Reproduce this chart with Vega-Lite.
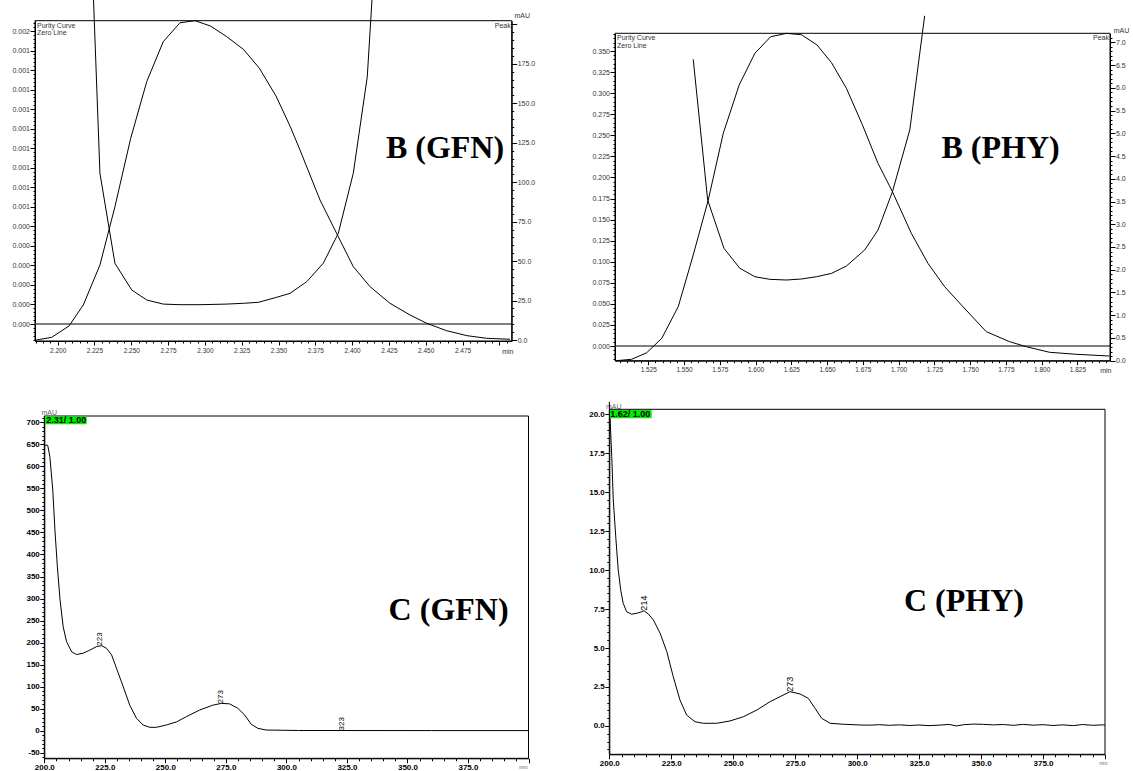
{
"$schema": "https://vega.github.io/schema/vega-lite/v6.json",
"width": 1133, "height": 771, "padding": 0, "autosize": {"type": "none"},
"background": "white",
"usermeta": {"embedOptions": {"actions": false}},
"config": {
  "view": {"stroke": null},
  "axis": {"grid": false, "domainColor": "black", "tickColor": "black", "domainWidth": 1, "tickWidth": 1, "labelOverlap": false, "labelFlush": false, "labelBound": false, "labelFont": "Liberation Sans", "titleFont": "Liberation Sans"},
  "text": {"font": "Liberation Sans"}
},
"datasets": {
  "b_gfn_peak": [
    {"t":2.1853,"mau":0.0},{"t":2.1959,"mau":1.7},{"t":2.2077,"mau":8.9},{"t":2.2174,"mau":22.2},{"t":2.2287,"mau":47.5},{"t":2.2389,"mau":84.5},{"t":2.2496,"mau":127.8},{"t":2.2605,"mau":163.7},{"t":2.2717,"mau":189.0},{"t":2.2831,"mau":201.0},{"t":2.2933,"mau":202.3},{"t":2.3039,"mau":198.9},{"t":2.3148,"mau":192.2},{"t":2.3261,"mau":184.2},{"t":2.3370,"mau":172.2},{"t":2.3483,"mau":154.6},{"t":2.3580,"mau":135.2},{"t":2.3646,"mau":120.4},{"t":2.3782,"mau":88.7},{"t":2.3906,"mau":65.5},{"t":2.4008,"mau":46.5},{"t":2.4122,"mau":33.8},{"t":2.4257,"mau":23.3},{"t":2.4393,"mau":15.9},{"t":2.4507,"mau":10.6},{"t":2.4643,"mau":5.9},{"t":2.4779,"mau":2.8},{"t":2.4914,"mau":1.1},{"t":2.5073,"mau":0.5}
  ],
  "b_gfn_purity": [
    {"t":2.2240,"purity":0.001731},{"t":2.2287,"purity":0.000772},{"t":2.2389,"purity":0.000311},{"t":2.2503,"purity":0.000174},{"t":2.2605,"purity":0.000123},{"t":2.2717,"purity":0.000102},{"t":2.2831,"purity":0.0000989},{"t":2.2967,"purity":0.0000989},{"t":2.3148,"purity":0.000102},{"t":2.3261,"purity":0.000106},{"t":2.3363,"purity":0.000111},{"t":2.3488,"purity":0.000137},{"t":2.3578,"purity":0.000157},{"t":2.3692,"purity":0.000217},{"t":2.3804,"purity":0.000311},{"t":2.3906,"purity":0.000464},{"t":2.4008,"purity":0.000772},{"t":2.4103,"purity":0.001266},{"t":2.4149,"purity":0.001832}
  ],
  "b_phy_peak": [
    {"t":1.5024,"mau":0.0},{"t":1.5134,"mau":0.031},{"t":1.5239,"mau":0.176},{"t":1.5344,"mau":0.492},{"t":1.5459,"mau":1.187},{"t":1.5564,"mau":2.324},{"t":1.5669,"mau":3.533},{"t":1.5774,"mau":4.999},{"t":1.5885,"mau":6.061},{"t":1.5995,"mau":6.758},{"t":1.6105,"mau":7.122},{"t":1.6216,"mau":7.197},{"t":1.6321,"mau":7.166},{"t":1.6430,"mau":6.940},{"t":1.6531,"mau":6.551},{"t":1.6635,"mau":5.988},{"t":1.6746,"mau":5.192},{"t":1.6856,"mau":4.339},{"t":1.6957,"mau":3.715},{"t":1.7089,"mau":2.801},{"t":1.7205,"mau":2.141},{"t":1.7322,"mau":1.627},{"t":1.7439,"mau":1.224},{"t":1.7613,"mau":0.638},{"t":1.7776,"mau":0.418},{"t":1.7893,"mau":0.308},{"t":1.8055,"mau":0.185},{"t":1.8242,"mau":0.141},{"t":1.8474,"mau":0.103}
  ],
  "b_phy_purity": [
    {"t":1.5564,"purity":0.3401},{"t":1.5665,"purity":0.1732},{"t":1.5779,"purity":0.1159},{"t":1.5890,"purity":0.0922},{"t":1.5995,"purity":0.0822},{"t":1.6100,"purity":0.0791},{"t":1.6216,"purity":0.0783},{"t":1.6321,"purity":0.0795},{"t":1.6426,"purity":0.0822},{"t":1.6531,"purity":0.0862},{"t":1.6635,"purity":0.0949},{"t":1.6763,"purity":0.1139},{"t":1.6856,"purity":0.1376},{"t":1.6957,"purity":0.1831},{"t":1.7078,"purity":0.2563},{"t":1.7182,"purity":0.3917}
  ],
  "c_gfn": [
    {"nm":200,"mau":648},{"nm":201.4,"mau":648},{"nm":202.3,"mau":622},{"nm":203.5,"mau":546},{"nm":204.4,"mau":455},{"nm":205.4,"mau":372},{"nm":206.5,"mau":297},{"nm":207.8,"mau":236},{"nm":209.2,"mau":202},{"nm":211.3,"mau":179},{"nm":213.3,"mau":173},{"nm":216.1,"mau":176},{"nm":218.8,"mau":183},{"nm":221.6,"mau":191},{"nm":223.7,"mau":193},{"nm":225.7,"mau":187},{"nm":227.8,"mau":172},{"nm":229.8,"mau":142},{"nm":232.6,"mau":100},{"nm":235.3,"mau":58},{"nm":238.1,"mau":28},{"nm":240.8,"mau":13},{"nm":243.6,"mau":7.7},{"nm":246.3,"mau":7.7},{"nm":250.4,"mau":13},{"nm":254.6,"mau":20},{"nm":258.7,"mau":32},{"nm":264.2,"mau":47},{"nm":269.6,"mau":58},{"nm":273.1,"mau":62},{"nm":276.5,"mau":61},{"nm":279.9,"mau":51},{"nm":282.7,"mau":36},{"nm":285.5,"mau":14.5},{"nm":288.2,"mau":5.4},{"nm":291.6,"mau":1.6},{"nm":298.5,"mau":1},{"nm":305,"mau":0.5},{"nm":330,"mau":0.4},{"nm":360,"mau":0.3},{"nm":400,"mau":0.3}
  ],
  "c_gfn_labels": [
    {"nm":223,"mau":193,"label":"223"},{"nm":273,"mau":62,"label":"273"},{"nm":323,"mau":0.5,"label":"323"}
  ],
  "c_phy": [
    {"nm":200,"mau":20.8},{"nm":201.0,"mau":17.28},{"nm":201.6,"mau":14.5},{"nm":202.7,"mau":11.93},{"nm":203.6,"mau":10.01},{"nm":204.6,"mau":8.73},{"nm":205.6,"mau":7.87},{"nm":207.0,"mau":7.33},{"nm":209.0,"mau":7.17},{"nm":211.1,"mau":7.23},{"nm":213.1,"mau":7.33},{"nm":214.0,"mau":7.40},{"nm":215.7,"mau":7.19},{"nm":217.8,"mau":6.80},{"nm":220.5,"mau":5.95},{"nm":223.2,"mau":4.77},{"nm":225.8,"mau":3.16},{"nm":228.5,"mau":1.67},{"nm":231.2,"mau":0.70},{"nm":234.6,"mau":0.27},{"nm":237.9,"mau":0.17},{"nm":243.3,"mau":0.17},{"nm":248.7,"mau":0.32},{"nm":254.1,"mau":0.59},{"nm":259.5,"mau":1.02},{"nm":264.9,"mau":1.56},{"nm":268.9,"mau":1.88},{"nm":272.9,"mau":2.20},{"nm":277.0,"mau":2.05},{"nm":280.3,"mau":1.77},{"nm":283.0,"mau":1.13},{"nm":285.7,"mau":0.49},{"nm":289.1,"mau":0.17},{"nm":294.4,"mau":0.11},{"nm":301.2,"mau":0.06},{"nm":305,"mau":0.05},{"nm":309,"mau":0.08},{"nm":313,"mau":0.04},{"nm":317,"mau":0.07},{"nm":321,"mau":0.03},{"nm":325,"mau":0.06},{"nm":329,"mau":0.02},{"nm":333,"mau":0.05},{"nm":337,"mau":0.1},{"nm":340,"mau":0.0},{"nm":343,"mau":0.08},{"nm":347,"mau":0.12},{"nm":351,"mau":0.1},{"nm":355,"mau":0.07},{"nm":359,"mau":0.09},{"nm":363,"mau":0.04},{"nm":367,"mau":0.1},{"nm":371,"mau":0.05},{"nm":375,"mau":0.08},{"nm":379,"mau":0.03},{"nm":383,"mau":0.07},{"nm":387,"mau":0.02},{"nm":391,"mau":0.09},{"nm":395,"mau":0.04},{"nm":399,"mau":0.07},{"nm":400,"mau":0.05}
  ],
  "c_phy_labels": [
    {"nm":214,"mau":7.4,"label":"214"},{"nm":273,"mau":2.2,"label":"273"}
  ]
},
"layer": [
  {
    "layer": [
      {
        "data": {"name": "b_gfn_purity"},
        "mark": {"type": "line", "color": "black", "strokeWidth": 1, "clip": true},
        "encoding": {
          "x": {"field": "t", "type": "quantitative",
            "scale": {"domain": [2.1846, 2.5084], "range": [35, 511.7], "nice": false, "zero": false},
            "axis": {"orient": "bottom", "offset": -430, "labelOverlap": false, "tickCount": 1000,
              "values": [2.185,2.19,2.195,2.2,2.205,2.21,2.215,2.22,2.225,2.23,2.235,2.24,2.245,2.25,2.255,2.26,2.265,2.27,2.275,2.28,2.285,2.29,2.295,2.3,2.305,2.31,2.315,2.32,2.325,2.33,2.335,2.34,2.345,2.35,2.355,2.36,2.365,2.37,2.375,2.38,2.385,2.39,2.395,2.4,2.405,2.41,2.415,2.42,2.425,2.43,2.435,2.44,2.445,2.45,2.455,2.46,2.465,2.47,2.475,2.48,2.485,2.49,2.495,2.5,2.505],
              "labelExpr": "abs(datum.value*40-round(datum.value*40))<0.001 && datum.value<2.49 ? format(datum.value,'.3f') : ''",
              "tickSize": 4,
              "tickDash": {"condition": {"test": "abs(datum.value*40-round(datum.value*40))<0.001", "value": []}, "value": [2, 20]},
              "labelFontSize": 6.5, "labelColor": "#333", "labelPadding": 2,
              "title": "min", "titleX": 513, "titleY": 6, "titleAlign": "right", "titleBaseline": "top", "titleFontSize": 7, "titleFontWeight": "normal", "titleColor": "#333"}},
          "y": {"field": "purity", "type": "quantitative",
            "scale": {"domain": [-0.000087, 0.001553], "range": [341, 20.7], "nice": false, "zero": false},
            "axis": {"orient": "left", "offset": -35, "labelOverlap": false, "tickCount": 1000,
              "values": [-0.00008,-0.00006,-0.00004,-0.00002,0,0.00002,0.00004,0.00006,0.00008,0.0001,0.00012,0.00014,0.00016,0.00018,0.0002,0.00022,0.00024,0.00026,0.00028,0.0003,0.00032,0.00034,0.00036,0.00038,0.0004,0.00042,0.00044,0.00046,0.00048,0.0005,0.00052,0.00054,0.00056,0.00058,0.0006,0.00062,0.00064,0.00066,0.00068,0.0007,0.00072,0.00074,0.00076,0.00078,0.0008,0.00082,0.00084,0.00086,0.00088,0.0009,0.00092,0.00094,0.00096,0.00098,0.001,0.00102,0.00104,0.00106,0.00108,0.0011,0.00112,0.00114,0.00116,0.00118,0.0012,0.00122,0.00124,0.00126,0.00128,0.0013,0.00132,0.00134,0.00136,0.00138,0.0014,0.00142,0.00144,0.00146,0.00148,0.0015,0.00152,0.00154],
              "labelExpr": "abs(datum.value*10000-round(datum.value*10000))<0.01 && datum.value>-0.00001 ? (datum.value<0.00055 ? '0.000' : (datum.value<0.00145 ? '0.001' : '0.002')) : ''",
              "tickSize": 5,
              "tickDash": {"condition": {"test": "abs(datum.value*10000-round(datum.value*10000))<0.01", "value": []}, "value": [2, 20]},
              "labelFontSize": 7, "labelColor": "#333", "labelPadding": 0.5, "title": null}}
        }
      },
      {
        "data": {"values": [{}]},
        "mark": {"type": "rule", "color": "#555", "strokeWidth": 1.5},
        "encoding": {"x": {"datum": 2.1846}, "x2": {"datum": 2.5084}, "y": {"datum": 0}}
      },
      {
        "data": {"values": [{}]},
        "mark": {"type": "text", "align": "left", "baseline": "top", "dx": 2, "dy": 1, "fontSize": 7, "lineHeight": 7.5, "color": "#333", "text": ["Purity Curve", "Zero Line"]},
        "encoding": {"x": {"datum": 2.1846}, "y": {"datum": 0.001553}}
      }
    ]
  },
  {
    "layer": [
      {
        "data": {"name": "b_gfn_peak"},
        "mark": {"type": "line", "color": "black", "strokeWidth": 1, "clip": true},
        "encoding": {
          "x": {"field": "t", "type": "quantitative", "scale": {"domain": [2.1846, 2.5084], "range": [35, 511.7], "nice": false, "zero": false}, "axis": null},
          "y": {"field": "mau", "type": "quantitative",
            "scale": {"domain": [-0.6, 202.3], "range": [341, 20.7], "nice": false, "zero": false},
            "axis": {"orient": "right", "offset": -621.3, "labelOverlap": false, "tickCount": 1000,
              "values": [0,5,10,15,20,25,30,35,40,45,50,55,60,65,70,75,80,85,90,95,100,105,110,115,120,125,130,135,140,145,150,155,160,165,170,175,180,185,190,195,200],
              "labelExpr": "datum.value%25==0 && datum.value<190 ? format(datum.value,'.1f') : ''",
              "tickSize": 5,
              "tickDash": {"condition": {"test": "datum.value%25==0", "value": []}, "value": [2, 20]},
              "labelFontSize": 7, "labelColor": "#333", "labelPadding": 0.5,
              "title": "mAU", "titleAngle": 0, "titleX": 10, "titleY": 15, "titleAlign": "center", "titleBaseline": "middle", "titleFontSize": 7, "titleFontWeight": "normal", "titleColor": "#333"}}
        }
      },
      {
        "data": {"values": [{}]},
        "mark": {"type": "rect", "fillOpacity": 0, "stroke": "black", "strokeWidth": 1},
        "encoding": {"x": {"datum": 2.1846}, "x2": {"datum": 2.5084}, "y": {"datum": -0.6}, "y2": {"datum": 202.3}}
      },
      {
        "data": {"values": [{}]},
        "mark": {"type": "text", "align": "right", "baseline": "top", "dx": -1, "dy": 1, "fontSize": 7, "color": "#333", "text": "Peak"},
        "encoding": {"x": {"datum": 2.5084}, "y": {"datum": 202.3}}
      },
      {
        "data": {"values": [{}]},
        "mark": {"type": "text", "align": "center", "baseline": "alphabetic", "font": "Liberation Serif", "fontWeight": "bold", "fontSize": 32, "color": "black", "text": "B (GFN)"},
        "encoding": {"x": {"datum": 2.4631}, "y": {"datum": 115.1}}
      }
    ]
  },
  {
    "layer": [
      {
        "data": {"name": "b_phy_purity"},
        "mark": {"type": "line", "color": "black", "strokeWidth": 1, "clip": true},
        "encoding": {
          "x": {"field": "t", "type": "quantitative",
            "scale": {"domain": [1.5017, 1.8478], "range": [615, 1110], "nice": false, "zero": false},
            "axis": {"orient": "bottom", "offset": -410.3, "labelOverlap": false, "tickCount": 1000,
              "values": [1.505,1.51,1.515,1.52,1.525,1.53,1.535,1.54,1.545,1.55,1.555,1.56,1.565,1.57,1.575,1.58,1.585,1.59,1.595,1.6,1.605,1.61,1.615,1.62,1.625,1.63,1.635,1.64,1.645,1.65,1.655,1.66,1.665,1.67,1.675,1.68,1.685,1.69,1.695,1.7,1.705,1.71,1.715,1.72,1.725,1.73,1.735,1.74,1.745,1.75,1.755,1.76,1.765,1.77,1.775,1.78,1.785,1.79,1.795,1.8,1.805,1.81,1.815,1.82,1.825,1.83,1.835,1.84,1.845],
              "labelExpr": "abs(datum.value*40-round(datum.value*40))<0.001 ? format(datum.value,'.3f') : ''",
              "tickSize": 4,
              "tickDash": {"condition": {"test": "abs(datum.value*40-round(datum.value*40))<0.001", "value": []}, "value": [2, 20]},
              "labelFontSize": 6.5, "labelColor": "#333", "labelPadding": 2,
              "title": "min", "titleX": 1111, "titleY": 6, "titleAlign": "right", "titleBaseline": "top", "titleFontSize": 7, "titleFontWeight": "normal", "titleColor": "#333"}},
          "y": {"field": "purity", "type": "quantitative",
            "scale": {"domain": [-0.01744, 0.371], "range": [360.7, 33.3], "nice": false, "zero": false},
            "axis": {"orient": "left", "offset": -615, "labelOverlap": false, "tickCount": 1000,
              "values": [-0.015,-0.01,-0.005,0,0.005,0.01,0.015,0.02,0.025,0.03,0.035,0.04,0.045,0.05,0.055,0.06,0.065,0.07,0.075,0.08,0.085,0.09,0.095,0.1,0.105,0.11,0.115,0.12,0.125,0.13,0.135,0.14,0.145,0.15,0.155,0.16,0.165,0.17,0.175,0.18,0.185,0.19,0.195,0.2,0.205,0.21,0.215,0.22,0.225,0.23,0.235,0.24,0.245,0.25,0.255,0.26,0.265,0.27,0.275,0.28,0.285,0.29,0.295,0.3,0.305,0.31,0.315,0.32,0.325,0.33,0.335,0.34,0.345,0.35,0.355,0.36,0.365,0.37],
              "labelExpr": "abs(datum.value*40-round(datum.value*40))<0.001 && datum.value>-0.001 ? format(datum.value,'.3f') : ''",
              "tickSize": 5,
              "tickDash": {"condition": {"test": "abs(datum.value*40-round(datum.value*40))<0.001", "value": []}, "value": [2, 20]},
              "labelFontSize": 7, "labelColor": "#333", "labelPadding": 0.5, "title": null}}
        }
      },
      {
        "data": {"values": [{}]},
        "mark": {"type": "rule", "color": "#555", "strokeWidth": 1.5},
        "encoding": {"x": {"datum": 1.5017}, "x2": {"datum": 1.8478}, "y": {"datum": 0}}
      },
      {
        "data": {"values": [{}]},
        "mark": {"type": "text", "align": "left", "baseline": "top", "dx": 2, "dy": 1, "fontSize": 7, "lineHeight": 7.5, "color": "#333", "text": ["Purity Curve", "Zero Line"]},
        "encoding": {"x": {"datum": 1.5017}, "y": {"datum": 0.371}}
      }
    ]
  },
  {
    "layer": [
      {
        "data": {"name": "b_phy_peak"},
        "mark": {"type": "line", "color": "black", "strokeWidth": 1, "clip": true},
        "encoding": {
          "x": {"field": "t", "type": "quantitative", "scale": {"domain": [1.5017, 1.8478], "range": [615, 1110], "nice": false, "zero": false}, "axis": null},
          "y": {"field": "mau", "type": "quantitative",
            "scale": {"domain": [0, 7.198], "range": [360.7, 33.3], "nice": false, "zero": false},
            "axis": {"orient": "right", "offset": -23, "labelOverlap": false, "tickCount": 1000,
              "values": [0,0.1,0.2,0.3,0.4,0.5,0.6,0.7,0.8,0.9,1,1.1,1.2,1.3,1.4,1.5,1.6,1.7,1.8,1.9,2,2.1,2.2,2.3,2.4,2.5,2.6,2.7,2.8,2.9,3,3.1,3.2,3.3,3.4,3.5,3.6,3.7,3.8,3.9,4,4.1,4.2,4.3,4.4,4.5,4.6,4.7,4.8,4.9,5,5.1,5.2,5.3,5.4,5.5,5.6,5.7,5.8,5.9,6,6.1,6.2,6.3,6.4,6.5,6.6,6.7,6.8,6.9,7,7.1],
              "labelExpr": "abs(datum.value*2-round(datum.value*2))<0.01 ? format(datum.value,'.1f') : ''",
              "tickSize": 5,
              "tickDash": {"condition": {"test": "abs(datum.value*2-round(datum.value*2))<0.01", "value": []}, "value": [2, 20]},
              "labelFontSize": 7, "labelColor": "#333", "labelPadding": 0.5,
              "title": "mAU", "titleAngle": 0, "titleX": 11, "titleY": 30, "titleAlign": "center", "titleBaseline": "middle", "titleFontSize": 7, "titleFontWeight": "normal", "titleColor": "#333"}}
        }
      },
      {
        "data": {"values": [{}]},
        "mark": {"type": "rect", "fillOpacity": 0, "stroke": "black", "strokeWidth": 1},
        "encoding": {"x": {"datum": 1.5017}, "x2": {"datum": 1.8478}, "y": {"datum": 0}, "y2": {"datum": 7.198}}
      },
      {
        "data": {"values": [{}]},
        "mark": {"type": "text", "align": "right", "baseline": "top", "dx": -1, "dy": 1, "fontSize": 7, "color": "#333", "text": "Peak"},
        "encoding": {"x": {"datum": 1.8478}, "y": {"datum": 7.198}}
      },
      {
        "data": {"values": [{}]},
        "mark": {"type": "text", "align": "center", "baseline": "alphabetic", "font": "Liberation Serif", "fontWeight": "bold", "fontSize": 32, "color": "black", "text": "B (PHY)"},
        "encoding": {"x": {"datum": 1.7713}, "y": {"datum": 4.449}}
      }
    ]
  },
  {
    "layer": [
      {
        "data": {"name": "c_gfn"},
        "mark": {"type": "line", "color": "black", "strokeWidth": 1, "clip": true},
        "encoding": {
          "x": {"field": "nm", "type": "quantitative",
            "scale": {"domain": [200, 400], "range": [44.3, 528.5], "nice": false, "zero": false},
            "axis": {"orient": "bottom", "offset": -12.7, "labelOverlap": false, "tickCount": 1000,
              "values": [200,205,210,215,220,225,230,235,240,245,250,255,260,265,270,275,280,285,290,295,300,305,310,315,320,325,330,335,340,345,350,355,360,365,370,375,380,385,390,395,400],
              "labelExpr": "datum.value%25==0 && datum.value<390 ? format(datum.value,'.1f') : ''",
              "tickSize": 4.5,
              "tickDash": {"condition": {"test": "datum.value%25==0", "value": []}, "value": [2.5, 20]},
              "labelFontSize": 8, "labelFontWeight": "bold", "labelColor": "black", "labelPadding": 0.5,
              "title": "nm", "titleX": 527, "titleY": 5, "titleAlign": "right", "titleBaseline": "top", "titleFontSize": 6, "titleFontWeight": "normal", "titleColor": "#666"}},
          "y": {"field": "mau", "type": "quantitative",
            "scale": {"domain": [-62.6, 714.3], "range": [758.3, 416], "nice": false, "zero": false},
            "axis": {"orient": "left", "offset": -44.3, "labelOverlap": false, "tickCount": 1000,
              "values": [-60,-50,-40,-30,-20,-10,0,10,20,30,40,50,60,70,80,90,100,110,120,130,140,150,160,170,180,190,200,210,220,230,240,250,260,270,280,290,300,310,320,330,340,350,360,370,380,390,400,410,420,430,440,450,460,470,480,490,500,510,520,530,540,550,560,570,580,590,600,610,620,630,640,650,660,670,680,690,700,710],
              "labelExpr": "datum.value%50==0 ? ''+datum.value : ''",
              "tickSize": 4.5,
              "tickDash": {"condition": {"test": "datum.value%50==0", "value": []}, "value": [2.5, 20]},
              "labelFontSize": 8, "labelFontWeight": "bold", "labelColor": "black", "labelPadding": 0.5,
              "title": "mAU", "titleAngle": 0, "titleX": 4.4, "titleY": 412.5, "titleAlign": "center", "titleBaseline": "middle", "titleFontSize": 7, "titleFontWeight": "normal", "titleColor": "#666"}}
        }
      },
      {
        "data": {"name": "c_gfn_labels"},
        "mark": {"type": "text", "angle": 270, "align": "left", "baseline": "middle", "fontSize": 8, "color": "black"},
        "encoding": {"x": {"field": "nm", "type": "quantitative"}, "y": {"field": "mau", "type": "quantitative"}, "text": {"field": "label"}}
      },
      {
        "data": {"values": [{}]},
        "mark": {"type": "rect", "fillOpacity": 0, "stroke": "black", "strokeWidth": 1},
        "encoding": {"x": {"datum": 200}, "x2": {"datum": 400}, "y": {"datum": -62.6}, "y2": {"datum": 714.3}}
      },
      {
        "data": {"values": [{}]},
        "mark": {"type": "rect", "color": "#00ee00"},
        "encoding": {"x": {"datum": 200.3}, "x2": {"datum": 217.5}, "y": {"datum": 695.4}, "y2": {"datum": 713.8}}
      },
      {
        "data": {"values": [{}]},
        "mark": {"type": "text", "align": "left", "baseline": "middle", "dx": 2, "fontSize": 9, "fontWeight": "bold", "color": "black", "text": "2.31/ 1.00"},
        "encoding": {"x": {"datum": 200}, "y": {"datum": 704.6}}
      },
      {
        "data": {"values": [{}]},
        "mark": {"type": "text", "align": "center", "baseline": "alphabetic", "font": "Liberation Serif", "fontWeight": "bold", "fontSize": 32, "color": "black", "text": "C (GFN)"},
        "encoding": {"x": {"datum": 367.0}, "y": {"datum": 251}}
      }
    ]
  },
  {
    "layer": [
      {
        "data": {"name": "c_phy"},
        "mark": {"type": "line", "color": "black", "strokeWidth": 1, "clip": true},
        "encoding": {
          "x": {"field": "nm", "type": "quantitative",
            "scale": {"domain": [200, 400], "range": [609.3, 1105], "nice": false, "zero": false},
            "axis": {"orient": "bottom", "offset": -16.7, "labelOverlap": false, "tickCount": 1000,
              "values": [200,205,210,215,220,225,230,235,240,245,250,255,260,265,270,275,280,285,290,295,300,305,310,315,320,325,330,335,340,345,350,355,360,365,370,375,380,385,390,395,400],
              "labelExpr": "datum.value%25==0 && datum.value<390 ? format(datum.value,'.1f') : ''",
              "tickSize": 4.5,
              "tickDash": {"condition": {"test": "datum.value%25==0", "value": []}, "value": [2.5, 20]},
              "labelFontSize": 8, "labelFontWeight": "bold", "labelColor": "black", "labelPadding": 0.5,
              "title": "nm", "titleX": 1107, "titleY": 5, "titleAlign": "right", "titleBaseline": "top", "titleFontSize": 6, "titleFontWeight": "normal", "titleColor": "#666"}},
          "y": {"field": "mau", "type": "quantitative",
            "scale": {"domain": [-1.82, 20.32], "range": [754.3, 409.3], "nice": false, "zero": false},
            "axis": {"orient": "left", "offset": -609.3, "labelOverlap": false, "tickCount": 1000,
              "values": [-1.5,-1,-0.5,0,0.5,1,1.5,2,2.5,3,3.5,4,4.5,5,5.5,6,6.5,7,7.5,8,8.5,9,9.5,10,10.5,11,11.5,12,12.5,13,13.5,14,14.5,15,15.5,16,16.5,17,17.5,18,18.5,19,19.5,20],
              "labelExpr": "abs(datum.value/2.5-round(datum.value/2.5))<0.01 && datum.value>-0.1 ? format(datum.value,'.1f') : ''",
              "tickSize": 4.5,
              "tickDash": {"condition": {"test": "abs(datum.value/2.5-round(datum.value/2.5))<0.01", "value": []}, "value": [2.5, 20]},
              "labelFontSize": 8, "labelFontWeight": "bold", "labelColor": "black", "labelPadding": 0.5,
              "title": "mAU", "titleAngle": 0, "titleX": 4, "titleY": 406, "titleAlign": "center", "titleBaseline": "middle", "titleFontSize": 7, "titleFontWeight": "normal", "titleColor": "#666"}}
        }
      },
      {
        "data": {"name": "c_phy_labels"},
        "mark": {"type": "text", "angle": 270, "align": "left", "baseline": "middle", "fontSize": 9, "color": "black"},
        "encoding": {"x": {"field": "nm", "type": "quantitative"}, "y": {"field": "mau", "type": "quantitative"}, "text": {"field": "label"}}
      },
      {
        "data": {"values": [{}]},
        "mark": {"type": "rect", "fillOpacity": 0, "stroke": "black", "strokeWidth": 1},
        "encoding": {"x": {"datum": 200}, "x2": {"datum": 400}, "y": {"datum": -1.82}, "y2": {"datum": 20.32}}
      },
      {
        "data": {"values": [{}]},
        "mark": {"type": "rect", "color": "#00ee00"},
        "encoding": {"x": {"datum": 200.3}, "x2": {"datum": 217.1}, "y": {"datum": 19.75}, "y2": {"datum": 20.28}}
      },
      {
        "data": {"values": [{}]},
        "mark": {"type": "text", "align": "left", "baseline": "middle", "dx": 1, "fontSize": 9, "fontWeight": "bold", "color": "black", "text": "1.62/ 1.00"},
        "encoding": {"x": {"datum": 200}, "y": {"datum": 20.02}}
      },
      {
        "data": {"values": [{}]},
        "mark": {"type": "text", "align": "center", "baseline": "alphabetic", "font": "Liberation Serif", "fontWeight": "bold", "fontSize": 32, "color": "black", "text": "C (PHY)"},
        "encoding": {"x": {"datum": 343.1}, "y": {"datum": 7.38}}
      }
    ]
  }
],
"resolve": {"scale": {"x": "independent", "y": "independent"}, "axis": {"x": "independent", "y": "independent"}}
}
